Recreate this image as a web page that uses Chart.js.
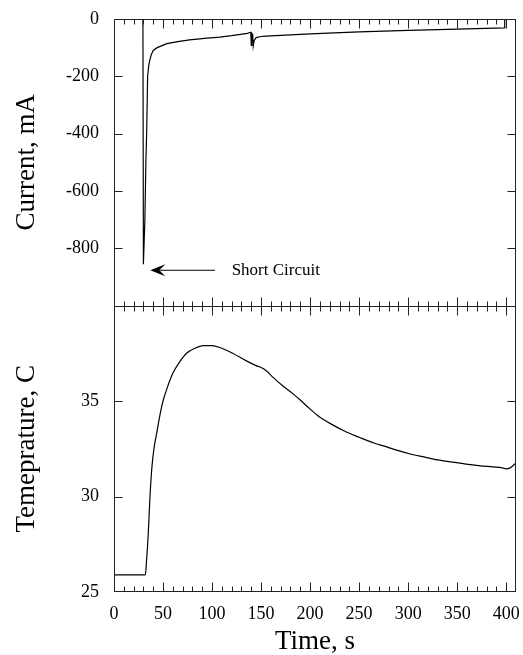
<!DOCTYPE html>
<html>
<head>
<meta charset="utf-8">
<script src="https://cdn.jsdelivr.net/npm/chart.js@4.4.1/dist/chart.umd.min.js"></script>
<style>
	html, body { margin: 0; padding: 0; background: #fff; }
</style>
</head>
<body>
<canvas id="chart" width="523" height="655"></canvas>
<script>
const SERIF = "'Liberation Serif', 'Times New Roman', serif";

// Current trace (time s, current mA)
const CURRENT_T  = [0, 29.5, 30, 31.5, 32.5, 33.3, 34.3, 35.5, 36.6, 38, 40, 44, 54, 65, 77, 95, 108, 120, 136,
                    138.5, 139.5, 140, 140.5, 141.5, 142, 143, 145, 150, 155, 170, 200, 250, 300, 350, 398, 398.5, 410];
const CURRENT_MA = [0, 0, -856, -700, -500, -400, -200, -160, -143, -125, -110, -100, -86, -79, -73, -67, -63, -58, -50,
                    -47, -46, -92, -50, -55, -95, -75, -65, -61, -60, -57, -52, -45, -40, -35, -31, 0, 0];

// Temperature trace (time s, deg C)
const TEMP_T = [0, 32, 33, 35, 36.5, 38.6, 41, 43.5, 47, 50, 55, 60.5, 67, 74, 82, 91, 100, 108, 121, 135, 145,
                150, 155, 162, 172, 182, 190, 199.5, 210, 223, 236, 250, 265, 278, 290, 304, 318, 332, 345, 359,
                372, 386, 396, 400, 404, 410];
const TEMP_C = [25.9, 25.9, 26.5, 28.1, 29.8, 31.5, 32.6, 33.3, 34.3, 35.0, 35.8, 36.5, 37.05, 37.5, 37.75, 37.9,
                37.9, 37.8, 37.5, 37.1, 36.85, 36.75, 36.6, 36.25, 35.8, 35.4, 35.05, 34.6, 34.15, 33.75, 33.4, 33.1,
                32.8, 32.6, 32.4, 32.2, 32.05, 31.9, 31.8, 31.7, 31.62, 31.55, 31.5, 31.45, 31.5, 31.75];

const TIME_TICKS    = [0, 50, 100, 150, 200, 250, 300, 350, 400];
const TIME_MINOR    = [10, 20, 30, 40, 60, 70, 80, 90, 110, 120, 130, 140, 160, 170, 180, 190, 210, 220, 230, 240,
                       260, 270, 280, 290, 310, 320, 330, 340, 360, 370, 380, 390];
const CURRENT_TICKS = [0, -200, -400, -600, -800];
const TEMP_TICKS    = [25, 30, 35];

// Annotation: arrow pointing at the short-circuit spike
const NOTE_TEXT = 'Short Circuit';
const NOTE_TIP  = [37, -877];
const NOTE_TAIL = [103, -877];
const NOTE_AT   = [120, -877];

const toXY = (xs, ys) => xs.map((x, i) => ({ x, y: ys[i] }));
const setTicks = vals => scale => { scale.ticks = vals.map(v => ({ value: v })); };
// fixed box size, no extra label overhang padding
const fitTo = (w, h) => s => {
	if (w) s.width = w;
	if (h) s.height = h;
	s.paddingTop = s.paddingBottom = s.paddingLeft = s.paddingRight = 0;
};

// Inward ticks, frame and the arrow note
const frameTicks = {
	id: 'frameTicks',
	afterDatasetsDraw(chart) {
		const { ctx, chartArea: a, scales: { x, y, y2 } } = chart;
		const mid = Math.round(y.bottom) + 0.5;
		const L = Math.round(a.left) + 0.5, R = Math.round(a.right) - 0.5;
		const T = Math.round(a.top) + 0.5, B = Math.round(a.bottom) - 0.5;
		const line = (x1, y1, x2, y2) => { ctx.beginPath(); ctx.moveTo(x1, y1); ctx.lineTo(x2, y2); ctx.stroke(); };

		ctx.save();
		ctx.strokeStyle = '#222';
		ctx.lineWidth = 1;
		ctx.strokeRect(L, T, R - L, B - T);
		line(L, mid, R, mid);

		const xTick = (t, len) => {
			const px = Math.round(x.getPixelForValue(t)) + 0.5;
			line(px, T, px, T + len);
			line(px, mid - len, px, mid + len);
			line(px, B, px, B - len);
		};
		TIME_TICKS.forEach(t => xTick(t, 9));
		TIME_MINOR.forEach(t => xTick(t, 5));

		const yTick = (scale, v) => {
			const py = Math.round(scale.getPixelForValue(v)) + 0.5;
			line(L, py, L + 8, py);
			line(R, py, R - 8, py);
		};
		CURRENT_TICKS.slice(1).forEach(v => yTick(y, v));
		TEMP_TICKS.slice(1).forEach(v => yTick(y2, v));

		// arrow
		const tipX = x.getPixelForValue(NOTE_TIP[0]), tipY = y.getPixelForValue(NOTE_TIP[1]);
		const tailX = x.getPixelForValue(NOTE_TAIL[0]);
		ctx.strokeStyle = '#000';
		line(tipX + 6, tipY, tailX, tipY);
		ctx.fillStyle = '#000';
		ctx.beginPath();
		ctx.moveTo(tipX, tipY);
		ctx.lineTo(tipX + 15, tipY - 6);
		ctx.lineTo(tipX + 9, tipY);
		ctx.lineTo(tipX + 15, tipY + 6);
		ctx.closePath();
		ctx.fill();

		ctx.font = '17px ' + SERIF;
		ctx.textBaseline = 'middle';
		ctx.textAlign = 'left';
		ctx.fillText(NOTE_TEXT, x.getPixelForValue(NOTE_AT[0]), y.getPixelForValue(NOTE_AT[1]));
		ctx.restore();
	}
};

const tickFont  = { family: SERIF, size: 18 };
const titleFont = { family: SERIF, size: 27, lineHeight: 1 };

new Chart(document.getElementById('chart'), {
	type: 'line',
	data: {
		datasets: [
			{ data: toXY(CURRENT_T, CURRENT_MA), yAxisID: 'y',  borderColor: '#000', borderWidth: 1.2,
			  pointRadius: 0, tension: 0 },
			{ data: toXY(TEMP_T, TEMP_C),       yAxisID: 'y2', borderColor: '#000', borderWidth: 1.2,
			  pointRadius: 0, cubicInterpolationMode: 'monotone' }
		]
	},
	options: {
		responsive: false,
		animation: false,
		layout: { padding: { top: 19, right: 7, left: 0, bottom: 0 } },
		plugins: { legend: { display: false }, tooltip: { enabled: false } },
		scales: {
			x: {
				type: 'linear', min: 0, max: 410,
				afterBuildTicks: setTicks(TIME_TICKS),
				afterFit: fitTo(0, 63),
				grid: { display: false, drawTicks: false },
				border: { display: false },
				ticks: { font: tickFont, color: '#000', padding: 11, maxRotation: 0 },
				title: { display: true, text: 'Time, s', font: titleFont, color: '#000', padding: 0 }
			},
			y: {
				type: 'linear', position: 'left', stack: 'panels', stackWeight: 1, weight: 2,
				min: -1000, max: 0,
				afterBuildTicks: setTicks(CURRENT_TICKS),
				afterFit: fitTo(114, 0),
				grid: { display: false, drawTicks: false },
				border: { display: false },
				ticks: { font: tickFont, color: '#000', padding: 15 },
				title: { display: true, text: 'Current, mA', font: titleFont, color: '#000', padding: { top: 13, bottom: 0 } }
			},
			y2: {
				type: 'linear', position: 'left', stack: 'panels', stackWeight: 1, weight: 1,
				min: 25, max: 40,
				afterBuildTicks: setTicks(TEMP_TICKS),
				afterFit: fitTo(114, 0),
				grid: { display: false, drawTicks: false },
				border: { display: false },
				ticks: { font: tickFont, color: '#000', padding: 15 },
				title: { display: true, text: 'Temeprature, C', font: titleFont, color: '#000', padding: { top: 13, bottom: 0 } }
			}
		}
	},
	plugins: [frameTicks]
});
</script>
</body>
</html>
